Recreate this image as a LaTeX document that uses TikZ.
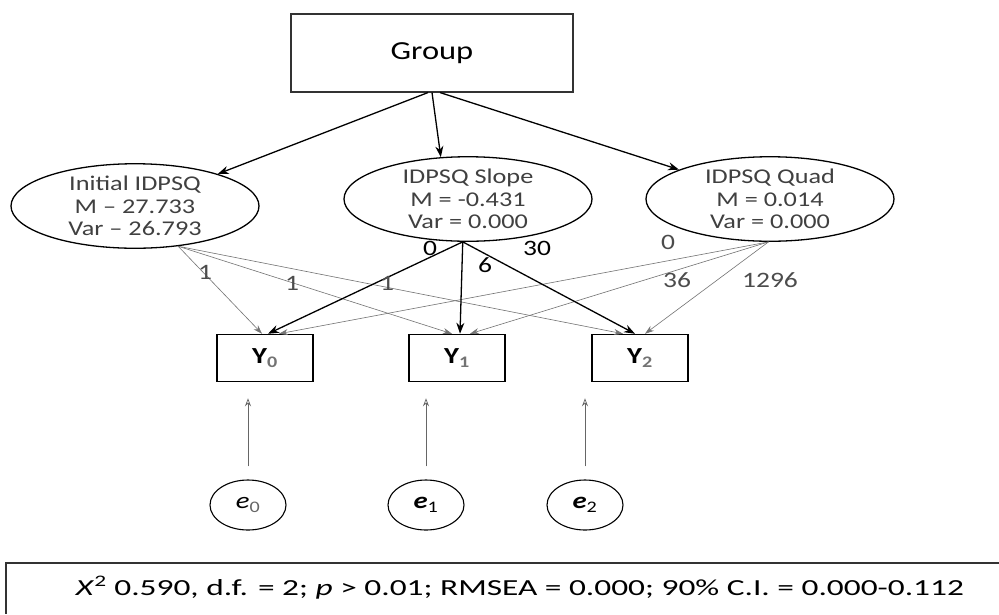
\documentclass[tikz,border=0pt]{standalone}
\usepackage{fontspec}
\usepackage{graphicx}
\setmainfont{Carlito}[FakeStretch=1.25]
\usetikzlibrary{arrows.meta,shapes.geometric}
\begin{document}
\begin{tikzpicture}[x=1pt,y=-1pt,
  lat/.style={draw, ellipse, line width=1.3pt, minimum width=248pt, minimum height=78pt, inner sep=0pt, align=center, text=black!75, font=\fontsize{21}{22.5}\selectfont},
  err/.style={draw, ellipse, line width=1.1pt, minimum width=76pt, minimum height=50pt, inner sep=0pt, font=\fontsize{23}{25}\selectfont},
  obs/.style={draw, rectangle, line width=1.5pt, minimum width=96pt, minimum height=47pt, inner sep=0pt, font=\fontsize{23}{25}\selectfont\bfseries},
  grpbox/.style={draw, rectangle, line width=1.1pt, draw=black!80, minimum width=282pt, minimum height=78pt, font=\fontsize{26}{28}\selectfont},
  thick arrow/.style={line width=1.3pt, -{Stealth[length=11pt,width=8pt]}},
  thin arrow/.style={line width=0.6pt, draw=black!55, -{Stealth[length=9pt,width=6pt]}},
  err arrow/.style={line width=0.7pt, draw=black!60, -{Stealth[length=8pt,width=6pt,open]}},
  lbl/.style={inner sep=0pt, font=\fontsize{22}{24}\selectfont},
  glbl/.style={lbl, text=black!70}
]
\useasboundingbox (0,0) rectangle (999,614);
\fill[white] (0,0) rectangle (999,614);

\node[grpbox] (grp) at (432,53) {Group};

\node[lat] (init)  at (135,206) {Initial IDPSQ\\M -- 27.733\\Var -- 26.793};
\node[lat] (slope) at (468,199) {IDPSQ Slope\\M = -0.431\\Var = 0.000};
\node[lat] (quad)  at (770,199) {IDPSQ Quad\\M = 0.014\\Var = 0.000};

\node[obs] (y0) at (265,358) {Y\textsubscript{\textcolor{black!55}{0}}};
\node[obs] (y1) at (457,358) {Y\textsubscript{\textcolor{black!55}{1}}};
\node[obs] (y2) at (640,358) {Y\textsubscript{\textcolor{black!55}{2}}};

\node[err] (e0) at (248,505) {\textit{e}\textsubscript{\textcolor{black!60}{0}}};
\node[err] (e1) at (426,505) {\textbf{\textit{e}}\textsubscript{1}};
\node[err] (e2) at (585,505) {\textbf{\textit{e}}\textsubscript{2}};

% group regressions
\draw[thick arrow] ([xshift=-4pt]grp.south) -- (init);
\draw[thick arrow] (grp.south) -- (slope.123);
\draw[thick arrow] ([xshift=8pt]grp.south) -- (quad);

% start coordinates
\coordinate (ia) at (init.-43);
\coordinate (sa) at (slope.-97);
\coordinate (qa) at (quad.-92);

% initial loadings
\draw[thin arrow] (ia) -- ([xshift=-3pt]y0.north);
\draw[thin arrow] (ia) -- ([xshift=-5pt]y1.north);
\draw[thin arrow] (ia) -- ([xshift=-17pt]y2.north);
% quad loadings
\draw[thin arrow] (qa) -- ([xshift=14pt]y0.north);
\draw[thin arrow] (qa) -- ([xshift=13pt]y1.north);
\draw[thin arrow] (qa) -- ([xshift=5pt]y2.north);
% slope loadings
\draw[thick arrow] (sa) -- ([xshift=3pt]y0.north);
\draw[thick arrow] (sa) -- ([xshift=3pt]y1.north);
\draw[thick arrow] (sa) -- ([xshift=-5pt]y2.north);

% error arrows
\draw[err arrow, shorten <=13pt, shorten >=16pt] (e0.north) -- (e0.north |- y0.south);
\draw[err arrow, shorten <=13pt, shorten >=16pt] (e1.north) -- (e1.north |- y1.south);
\draw[err arrow, shorten <=13pt, shorten >=16pt] (e2.north) -- (e2.north |- y2.south);

% loading labels
\node[glbl] (l1) at (205,272) {1};
\node[glbl] (l2) at (292,283) {1};
\node[glbl] (l3) at (387,283) {1};
\node[lbl] (l4) at (430,248) {0};
\node[lbl] (l5) at (485,265) {6};
\node[lbl] (l6) at (537,248) {30};
\node[glbl] (l7) at (668,242) {0};
\node[glbl] (l8) at (677,280) {36};
\node[glbl] (l9) at (770,280) {1296};

% fit box
\draw[line width=1.4pt, draw=black!80] (999,563) -- (6,563) -- (6,614);
\node[inner sep=0pt, font=\fontsize{23}{25}\selectfont] (fit) at (520,588)
  {\resizebox{888pt}{\height}{\textit{X}\textsuperscript{2} 0.590, d.f. = 2; \textit{p} > 0.01; RMSEA = 0.000; 90\% C.I. = 0.000-0.112}};
\end{tikzpicture}
\end{document}
